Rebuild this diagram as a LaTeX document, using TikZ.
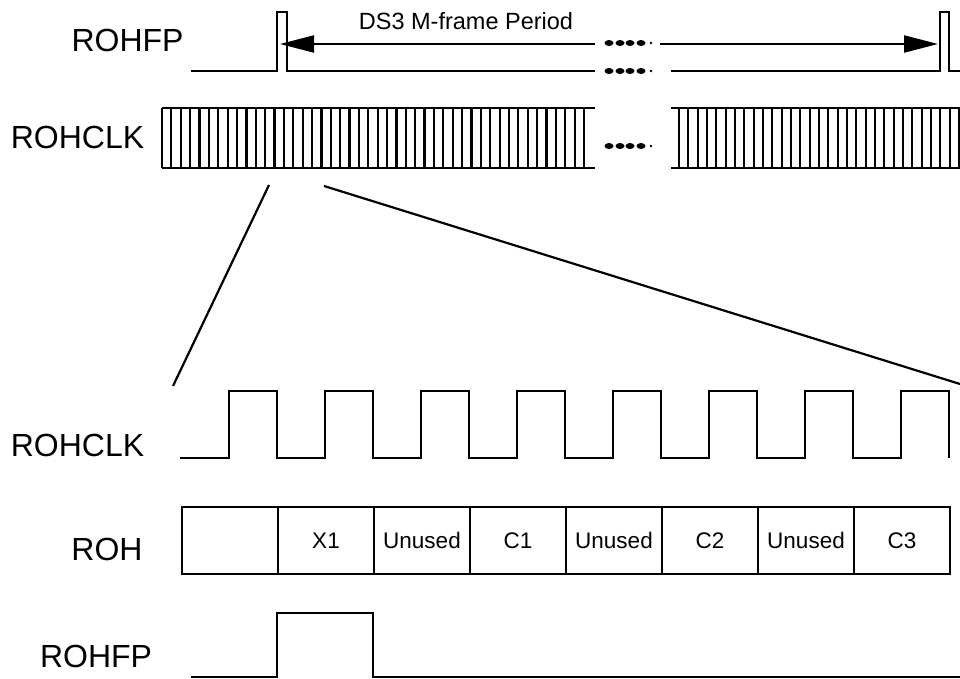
\documentclass[tikz,border=0pt]{standalone}
\usepackage{fontspec}
\setmainfont{Liberation Sans}
\usetikzlibrary{arrows.meta}
\begin{document}
\begin{tikzpicture}[x=1pt,y=-1pt,line width=2.2pt]
            \tikzstyle{nom}=[anchor=base,inner sep=0pt,font=\fontsize{32}{36}\selectfont]
            \tikzstyle{case}=[draw,minimum width=96pt,minimum height=67pt,inner sep=0pt,font=\fontsize{22.5}{26}\selectfont]
            \tikzstyle{fleche}=[-{Triangle[length=34pt,width=17pt]}]
            \useasboundingbox (0,0) rectangle (960,679);
            \node[nom] (fp1) at (127.5,52) {ROHFP};
            \node[nom] (clk1) at (77.5,149) {ROHCLK};
            \node[nom] (clk2) at (77.5,456) {ROHCLK};
            \node[nom] (oh) at (107,560) {ROH};
            \node[nom] (fp2) at (96,667) {ROHFP};
            \node[anchor=base,inner sep=0pt,font=\fontsize{23.5}{28}\selectfont] (per) at (466,30) {DS3 M-frame Period};
            \node[case] (r0) at (230,540.5) {};
            \node[case] (r1) at (326,540.5) {X1};
            \node[case] (r2) at (422,540.5) {Unused};
            \node[case] (r3) at (518,540.5) {C1};
            \node[case] (r4) at (614,540.5) {Unused};
            \node[case] (r5) at (710,540.5) {C2};
            \node[case] (r6) at (806,540.5) {Unused};
            \node[case] (r7) at (902,540.5) {C3};
            \coordinate (pa) at (280,44);
            \coordinate (pb) at (938,44);
            \coordinate (g1) at (595,44);
            \coordinate (g2) at (660,44);
            \coordinate (z1) at (269,185);
            \coordinate (z2) at (173,386);
            \coordinate (z3) at (324,186);
            \coordinate (z4) at (960,384);
            \draw[fleche] (g1) -- (pa);
            \draw[fleche] (g2) -- (pb);
            \draw (191,71) -- (277,71) -- (277,12) -- (287,12) -- (287,71) -- (595,71);
            \draw (671,71) -- (940,71) -- (940,12) -- (949,12) -- (949,71) -- (960,71);
            \draw (162,108) -- (595,108) (162,168) -- (595,168);
            \draw (671,108) -- (960,108) (671,168) -- (960,168);
            \foreach \i in {0,...,45} \draw (162+\i*9.378,108) -- (162+\i*9.378,168);
            \foreach \i in {0,...,30} \draw (679+\i*9.333,108) -- (679+\i*9.333,168);
            \foreach \y in {43,71,146} {
                \foreach \x in {609,620,630,641} \fill (\x,\y) ellipse (4.5 and 3);
                \fill (651,\y) circle (1.3);
            }
            \draw (z1) -- (z2);
            \draw (z3) -- (z4);
            \draw (180,458) foreach \k in {0,...,7} { -- (229+96*\k,458) -- (229+96*\k,391) -- (277+96*\k,391) -- (277+96*\k,458) };
            \draw (191,677) -- (277,677) -- (277,613) -- (373,613) -- (373,677) -- (960,677);
        \end{tikzpicture}
\end{document}
